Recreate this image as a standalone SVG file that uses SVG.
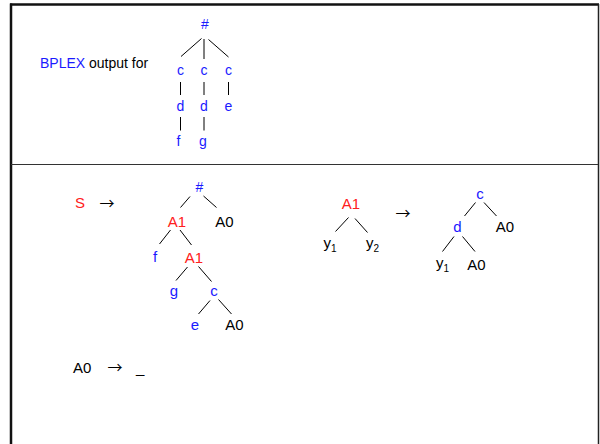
<svg xmlns="http://www.w3.org/2000/svg" width="600" height="444" viewBox="0 0 600 444">
<style>
text{font-family:"Liberation Sans",Arial,sans-serif;font-size:14px}
.b{fill:#1a1aff}
.r{fill:#ff2020}
.k{fill:#000}
.m{text-anchor:middle}
.big{font-size:15px}
.sub{font-size:10px}
.arr{font-family:"Noto Sans CJK JP","DejaVu Sans",sans-serif;font-size:15px}
line.e{stroke:#000;stroke-width:1}
</style>
<rect width="600" height="444" fill="#fff"/>
<g id="frame">
<line x1="11" y1="3.5" x2="11" y2="444" stroke="#111" stroke-width="2.5"/>
<line x1="10" y1="4.5" x2="599" y2="4.5" stroke="#111" stroke-width="2.5"/>
<line x1="598.5" y1="4" x2="598.5" y2="444" stroke="#222" stroke-width="1.5"/>
<line x1="11" y1="164.5" x2="598" y2="164.5" stroke="#333" stroke-width="1.2"/>
</g>
<g id="connectors">
<line class="e" x1="201.5" y1="38.5" x2="181" y2="56.5"/>
<line class="e" x1="204" y1="39" x2="204" y2="59"/>
<line class="e" x1="208.5" y1="39.5" x2="228.5" y2="57"/>
<line class="e" x1="180.5" y1="82" x2="180.5" y2="95"/>
<line class="e" x1="204" y1="82" x2="204" y2="95"/>
<line class="e" x1="228.5" y1="82" x2="228.5" y2="95"/>
<line class="e" x1="180.5" y1="117" x2="180.5" y2="130.5"/>
<line class="e" x1="204" y1="117" x2="204" y2="130.5"/>
<line class="e" x1="190" y1="196.5" x2="180.5" y2="207.5"/>
<line class="e" x1="203.5" y1="196" x2="216.5" y2="207.5"/>
<line class="e" x1="170.5" y1="230" x2="159.5" y2="244"/>
<line class="e" x1="180" y1="230" x2="191.5" y2="245"/>
<line class="e" x1="187.5" y1="267" x2="176" y2="280.5"/>
<line class="e" x1="198.5" y1="266.5" x2="211.5" y2="281.5"/>
<line class="e" x1="210" y1="300.5" x2="198.5" y2="314"/>
<line class="e" x1="218.5" y1="299.5" x2="231.5" y2="314"/>
<line class="e" x1="348.5" y1="217.5" x2="335.5" y2="231.5"/>
<line class="e" x1="355" y1="218.5" x2="367.5" y2="232.5"/>
<line class="e" x1="475.5" y1="202.5" x2="464.5" y2="216"/>
<line class="e" x1="484" y1="202.5" x2="496.5" y2="216"/>
<line class="e" x1="454" y1="236.5" x2="442.5" y2="251.5"/>
<line class="e" x1="462.5" y1="236.5" x2="475" y2="251.5"/>
</g>
<g id="label-bplex"><text x="40" y="68"><tspan class="b">BPLEX</tspan><tspan class="k"> output for</tspan></text></g>
<g id="t1-root"><text class="b m" x="205" y="29">#</text></g>
<g id="t1-c1"><text class="b m" x="180.5" y="75">c</text></g>
<g id="t1-c2"><text class="b m" x="204" y="75">c</text></g>
<g id="t1-c3"><text class="b m" x="228.5" y="75">c</text></g>
<g id="t1-d1"><text class="b m" x="180.5" y="111">d</text></g>
<g id="t1-d2"><text class="b m" x="204" y="111">d</text></g>
<g id="t1-e"><text class="b m" x="228.5" y="111">e</text></g>
<g id="t1-f"><text class="b m" x="178.5" y="146">f</text></g>
<g id="t1-g"><text class="b m" x="203" y="146">g</text></g>

<g id="rule-S"><text class="r big" x="75" y="208">S</text><text class="arr k" x="99.5" y="208.5">→</text></g>
<g id="t2-root"><text class="b m" x="199.5" y="192">#</text></g>
<g id="t2-A1a"><text class="r m big" x="177" y="227">A1</text></g>
<g id="t2-A0a"><text class="k m big" x="224.5" y="227">A0</text></g>
<g id="t2-f"><text class="b m big" x="155" y="262">f</text></g>
<g id="t2-A1b"><text class="r m big" x="194" y="262.5">A1</text></g>
<g id="t2-g"><text class="b m big" x="174" y="296">g</text></g>
<g id="t2-c"><text class="b m big" x="214" y="296">c</text></g>
<g id="t2-e"><text class="b m big" x="195" y="330">e</text></g>
<g id="t2-A0b"><text class="k m big" x="234.5" y="330">A0</text></g>

<g id="t3-A1"><text class="r m big" x="351" y="209">A1</text></g>
<g id="t3-y1"><text class="k big" x="323.5" y="247.5">y<tspan class="sub" dy="4">1</tspan></text></g>
<g id="t3-y2"><text class="k big" x="366" y="247.5">y<tspan class="sub" dy="4">2</tspan></text></g>
<g id="t3-arrow"><text class="arr k" x="395.5" y="218.5">→</text></g>
<g id="t4-c"><text class="b m big" x="480" y="199">c</text></g>
<g id="t4-d"><text class="b m big" x="457.5" y="232">d</text></g>
<g id="t4-A0a"><text class="k m big" x="505" y="232">A0</text></g>
<g id="t4-y1"><text class="k big" x="436" y="268">y<tspan class="sub" dy="4">1</tspan></text></g>
<g id="t4-A0b"><text class="k m big" x="476.5" y="270">A0</text></g>

<g id="rule-A0"><text class="k big" x="73" y="373">A0</text><text class="arr k" x="107.5" y="372.5">→</text><text class="k big" x="136" y="373">_</text></g>
</svg>
